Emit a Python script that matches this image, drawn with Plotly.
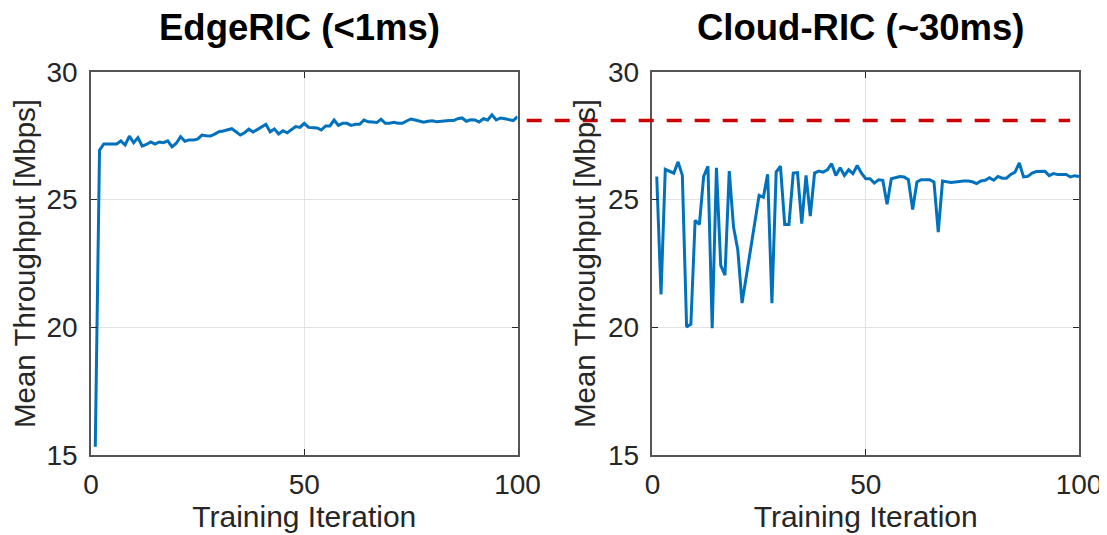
import plotly.graph_objects as go
from plotly.subplots import make_subplots

iterations = list(range(1, 101))

edge_ric = [15.32, 26.94, 27.18, 27.18, 27.18, 27.18, 27.30, 27.14, 27.49, 27.23,
            27.43, 27.10, 27.16, 27.26, 27.18, 27.26, 27.23, 27.30, 27.07, 27.21,
            27.47, 27.29, 27.34, 27.34, 27.37, 27.53, 27.50, 27.49, 27.57, 27.66,
            27.69, 27.74, 27.78, 27.66, 27.53, 27.62, 27.76, 27.65, 27.76, 27.85,
            27.95, 27.66, 27.77, 27.57, 27.70, 27.62, 27.73, 27.86, 27.83, 27.99,
            27.83, 27.82, 27.81, 27.73, 27.89, 27.89, 28.12, 27.91, 27.99, 27.99,
            27.91, 27.95, 27.95, 28.12, 28.05, 28.04, 28.02, 28.15, 27.99, 27.99,
            28.03, 27.99, 27.99, 28.08, 28.16, 28.12, 28.07, 28.03, 28.07, 28.09,
            28.05, 28.07, 28.08, 28.10, 28.10, 28.17, 28.20, 28.07, 28.13, 28.12,
            28.04, 28.17, 28.12, 28.32, 28.12, 28.20, 28.17, 28.13, 28.10, 28.25]

cloud_ric = [25.91, 21.29, 26.19, 26.12, 26.04, 26.48, 25.95, 20.01, 20.12, 24.19,
             24.03, 25.91, 26.31, 19.97, 26.25, 22.43, 22.04, 26.12, 23.93, 23.04,
             20.95, 22.00, 23.05, 24.11, 25.17, 25.10, 25.99, 20.95, 26.08, 26.31,
             24.03, 24.03, 26.04, 26.06, 24.06, 25.95, 24.36, 26.04, 26.12, 26.08,
             26.17, 26.41, 25.95, 26.25, 25.95, 26.17, 26.02, 26.34, 26.04, 25.82,
             25.82, 25.65, 25.78, 25.76, 24.82, 25.82, 25.86, 25.91, 25.89, 25.78,
             24.61, 25.69, 25.78, 25.78, 25.78, 25.69, 23.73, 25.73, 25.70, 25.67,
             25.69, 25.72, 25.73, 25.73, 25.70, 25.63, 25.73, 25.76, 25.86, 25.76,
             25.91, 25.84, 25.84, 25.99, 26.08, 26.44, 25.89, 25.91, 26.04, 26.10,
             26.10, 26.11, 25.94, 26.02, 25.99, 25.99, 25.99, 25.89, 25.94, 25.91]

reference_level = 28.1

titles = ["<b>EdgeRIC (<1ms)</b>", "<b>Cloud-RIC (~30ms)</b>"]
x_ticks = [0, 50, 100]
y_ticks = [15, 20, 25, 30]

FONT = "Liberation Sans, Arial, Helvetica, sans-serif"
BLUE = "#0072BD"
TXT = "#262626"

fig = make_subplots(rows=1, cols=2, horizontal_spacing=0.1366)

fig.add_trace(go.Scatter(x=iterations, y=edge_ric, mode="lines",
                         line=dict(color=BLUE, width=3), showlegend=False), row=1, col=1)
fig.add_trace(go.Scatter(x=iterations, y=cloud_ric, mode="lines",
                         line=dict(color=BLUE, width=3), showlegend=False), row=1, col=2)

axis_common = dict(
    showline=True, linecolor="#555555", linewidth=1.5, mirror="ticks",
    ticks="inside", ticklen=6, tickcolor="#262626", tickwidth=1.2,
    showgrid=True, gridcolor="#E3E3E3", gridwidth=1, zeroline=False,
    tickfont=dict(family=FONT, size=28, color=TXT),
)

for c in (1, 2):
    fig.update_xaxes(range=[0, 100], tickvals=x_ticks, ticktext=[str(t) for t in x_ticks],
                     ticklabelstandoff=4,
                     title=dict(text="Training Iteration", font=dict(family=FONT, size=30, color=TXT),
                                standoff=2),
                     row=1, col=c, **axis_common)
    fig.update_yaxes(range=[15, 30], tickvals=y_ticks, ticktext=[str(t) for t in y_ticks],
                     ticklabelstandoff=6,
                     title=dict(text="Mean Throughput [Mbps]", font=dict(family=FONT, size=29.5, color=TXT),
                                standoff=4),
                     row=1, col=c, **axis_common)

fig.update_layout(
    width=1107, height=535,
    margin=dict(l=83, r=36, t=64, b=88),
    plot_bgcolor="white", paper_bgcolor="white",
    font=dict(family=FONT, color=TXT),
)

dom1 = fig.layout.xaxis.domain
dom2 = fig.layout.xaxis2.domain
for dom, t in zip((dom1, dom2), titles):
    fig.add_annotation(x=(dom[0] + dom[1]) / 2, y=1, xref="paper", yref="paper",
                       xanchor="center", yanchor="middle", yshift=45, xshift=-5,
                       text=t, showarrow=False,
                       font=dict(family=FONT, size=36.5, color="black"))

fig.add_shape(type="line", xref="paper", yref="y2", x0=0.441, x1=0.991,
              y0=reference_level, y1=reference_level,
              line=dict(color="#CC0000", width=3.5, dash="15px,13px"))

fig.write_html("out.html")
